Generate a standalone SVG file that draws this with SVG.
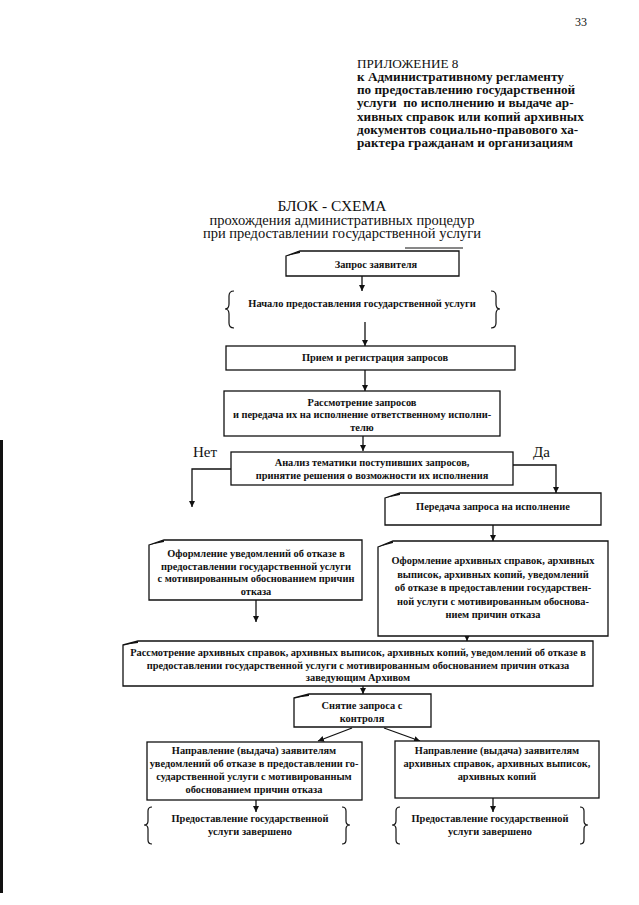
<svg xmlns="http://www.w3.org/2000/svg" width="639" height="905" viewBox="0 0 639 905">
<style>
.hd{font-family:"Liberation Serif","Times New Roman",serif;font-size:13.2px;fill:#111}
.hb{font-weight:bold}
.tt{font-family:"Liberation Serif","Times New Roman",serif;font-size:14.5px;fill:#111;text-anchor:middle}
.t{font-family:"Liberation Serif","Times New Roman",serif;font-size:10.4px;font-weight:bold;fill:#111;text-anchor:middle}
.lb{font-family:"Liberation Serif","Times New Roman",serif;font-size:15px;fill:#111}
.bx{fill:#fff;stroke:#111;stroke-width:1.3}
.br{fill:none;stroke:#111;stroke-width:1.2}
.ln{fill:none;stroke:#111;stroke-width:1.3}
.wg{fill:#111}
</style>
<defs>
<marker id="ah" viewBox="0 0 10 10" refX="10" refY="5" markerWidth="6" markerHeight="6" markerUnits="userSpaceOnUse" orient="auto"><path d="M0,0 L10,5 L0,10 Z" fill="#111"/></marker>
</defs>
<rect x="0" y="0" width="639" height="905" fill="#fff"/>
<rect x="0" y="440" width="3" height="453" fill="#111"/>
<text class="hd" x="575" y="26" style="font-size:12px">33</text>
<g id="header">
<text class="hd" x="357" y="68">ПРИЛОЖЕНИЕ 8</text>
<text class="hd hb" x="357" y="81">к Административному регламенту</text>
<text class="hd hb" x="357" y="94">по предоставлению государственной</text>
<text class="hd hb" x="357" y="107" xml:space="preserve">услуги  по исполнению и выдаче ар-</text>
<text class="hd hb" x="357" y="121">хивных справок или копий архивных</text>
<text class="hd hb" x="357" y="134">документов социально-правового ха-</text>
<text class="hd hb" x="357" y="147">рактера гражданам и организациям</text>
</g>
<g id="title">
<text class="tt" x="332" y="211" style="font-size:15.5px">БЛОК - СХЕМА</text>
<text class="tt" x="342" y="225">прохождения административных процедур</text>
<text class="tt" x="342" y="238">при предоставлении государственной услуги</text>
<line x1="405" y1="248" x2="463" y2="248" stroke="#111" stroke-width="1"/>
</g>
<g id="connectors">
<line class="ln" x1="362" y1="276" x2="362" y2="291" marker-end="url(#ah)"/>
<line class="ln" x1="365" y1="322" x2="365" y2="346" marker-end="url(#ah)"/>
<line class="ln" x1="365" y1="370" x2="365" y2="391" marker-end="url(#ah)"/>
<line class="ln" x1="363" y1="436" x2="363" y2="451" marker-end="url(#ah)"/>
<polyline class="ln" points="231,469 192,469 192,507" marker-end="url(#ah)"/>
<polyline class="ln" points="513,465 556,465 556,493" marker-end="url(#ah)"/>
<line class="ln" x1="493" y1="525" x2="493" y2="541" marker-end="url(#ah)"/>
<line class="ln" x1="256" y1="600" x2="256" y2="622" marker-end="url(#ah)"/>
<line class="ln" x1="467" y1="636" x2="467" y2="641" marker-end="url(#ah)"/>
<line class="ln" x1="363" y1="686" x2="363" y2="694" marker-end="url(#ah)"/>
<line class="ln" x1="352" y1="728" x2="318" y2="741" marker-end="url(#ah)"/>
<line class="ln" x1="384" y1="728" x2="420" y2="741" marker-end="url(#ah)"/>
<line class="ln" x1="256" y1="800" x2="256" y2="812" marker-end="url(#ah)"/>
<line class="ln" x1="493" y1="798" x2="493" y2="812" marker-end="url(#ah)"/>
</g>
<g id="n1">
<path class="bx" d="M286,256 L300,251 L459,251 L459,276 L286,276 Z"/>
<path class="wg" d="M286,256 L300,251 L300,253 Z"/>
<text class="t" x="376" y="268">Запрос заявителя</text>
</g>
<g id="n2">
<path class="br" d="M234,291 Q229,291 229,296 L229,304 Q229,309 225,309 Q229,309 229,314 L229,323 Q229,328 234,328"/>
<path class="br" d="M491,291 Q496,291 496,296 L496,304 Q496,309 500,309 Q496,309 496,314 L496,323 Q496,328 491,328"/>
<text class="t" x="362" y="307">Начало предоставления государственной услуги</text>
</g>
<g id="n3">
<rect class="bx" x="226" y="346" width="289" height="24"/>
<text class="t" x="375" y="361">Прием и регистрация запросов</text>
</g>
<g id="n4">
<rect class="bx" x="224" y="391" width="276" height="45"/>
<text class="t" x="362" y="406">Рассмотрение запросов</text>
<text class="t" x="362" y="418">и передача их на исполнение ответственному исполни-</text>
<text class="t" x="362" y="431">телю</text>
</g>
<text class="lb" x="193" y="457">Нет</text>
<text class="lb" x="533" y="457">Да</text>
<g id="n5">
<rect class="bx" x="231" y="452" width="282" height="33"/>
<text class="t" x="372" y="466">Анализ тематики поступивших запросов,</text>
<text class="t" x="372" y="479">принятие решения о возможности их исполнения</text>
</g>
<g id="n6">
<path class="bx" d="M385,498 L400,493 L601,493 L601,525 L385,525 Z"/>
<path class="wg" d="M385,498 L400,493 L400,495 Z"/>
<text class="t" x="493" y="510">Передача запроса на исполнение</text>
</g>
<g id="n7">
<path class="bx" d="M149,545 L164,540 L362,540 L362,600 L149,600 Z"/>
<path class="wg" d="M149,545 L164,540 L164,542 Z"/>
<text class="t" x="256" y="557">Оформление уведомлений об отказе в</text>
<text class="t" x="256" y="570">предоставлении государственной услуги</text>
<text class="t" x="256" y="582">с мотивированным обоснованием причин</text>
<text class="t" x="256" y="595">отказа</text>
</g>
<g id="n8">
<path class="bx" d="M378,547 L393,541 L608,541 L608,636 L378,636 Z"/>
<path class="wg" d="M378,547 L393,541 L393,543 Z"/>
<text class="t" x="493" y="564">Оформление архивных справок, архивных</text>
<text class="t" x="493" y="578">выписок, архивных копий, уведомлений</text>
<text class="t" x="493" y="591">об отказе в предоставлении государствен-</text>
<text class="t" x="493" y="605">ной услуги с мотивированным обоснова-</text>
<text class="t" x="493" y="618">нием причин отказа</text>
</g>
<g id="n9">
<path class="bx" d="M123,645 L138,641 L593,641 L593,686 L123,686 Z"/>
<path class="wg" d="M123,645 L138,641 L138,643 Z"/>
<text class="t" x="358" y="656">Рассмотрение архивных справок, архивных выписок, архивных копий, уведомлений об отказе в</text>
<text class="t" x="358" y="669">предоставлении государственной услуги с мотивированным обоснованием причин отказа</text>
<text class="t" x="358" y="681">заведующим Архивом</text>
</g>
<g id="n10">
<path class="bx" d="M294,698 L309,694 L431,694 L431,727 L294,727 Z"/>
<path class="wg" d="M294,698 L309,694 L309,696 Z"/>
<text class="t" x="362" y="709">Снятие запроса с</text>
<text class="t" x="362" y="722">контроля</text>
</g>
<g id="n11">
<rect class="bx" x="147" y="742" width="215" height="58"/>
<text class="t" x="254" y="754">Направление (выдача) заявителям</text>
<text class="t" x="254" y="767">уведомлений об отказе в предоставлении го-</text>
<text class="t" x="254" y="780">сударственной услуги с мотивированным</text>
<text class="t" x="254" y="793">обоснованием причин отказа</text>
</g>
<g id="n12">
<rect class="bx" x="395" y="741" width="204" height="57"/>
<text class="t" x="497" y="754">Направление (выдача) заявителям</text>
<text class="t" x="497" y="767">архивных справок, архивных выписок,</text>
<text class="t" x="497" y="780">архивных копий</text>
</g>
<g id="n13">
<path class="br" d="M152,807 Q148,807 148,811 L148,821 Q148,825 144,825 Q148,825 148,829 L148,840 Q148,844 152,844"/>
<path class="br" d="M342,807 Q346,807 346,811 L346,821 Q346,825 350,825 Q346,825 346,829 L346,840 Q346,844 342,844"/>
<text class="t" x="250" y="822">Предоставление государственной</text>
<text class="t" x="250" y="835">услуги завершено</text>
</g>
<g id="n14">
<path class="br" d="M400,807 Q396,807 396,811 L396,821 Q396,825 392,825 Q396,825 396,829 L396,840 Q396,844 400,844"/>
<path class="br" d="M580,807 Q584,807 584,811 L584,821 Q584,825 588,825 Q584,825 584,829 L584,840 Q584,844 580,844"/>
<text class="t" x="490" y="822">Предоставление государственной</text>
<text class="t" x="490" y="835">услуги завершено</text>
</g>
</svg>
